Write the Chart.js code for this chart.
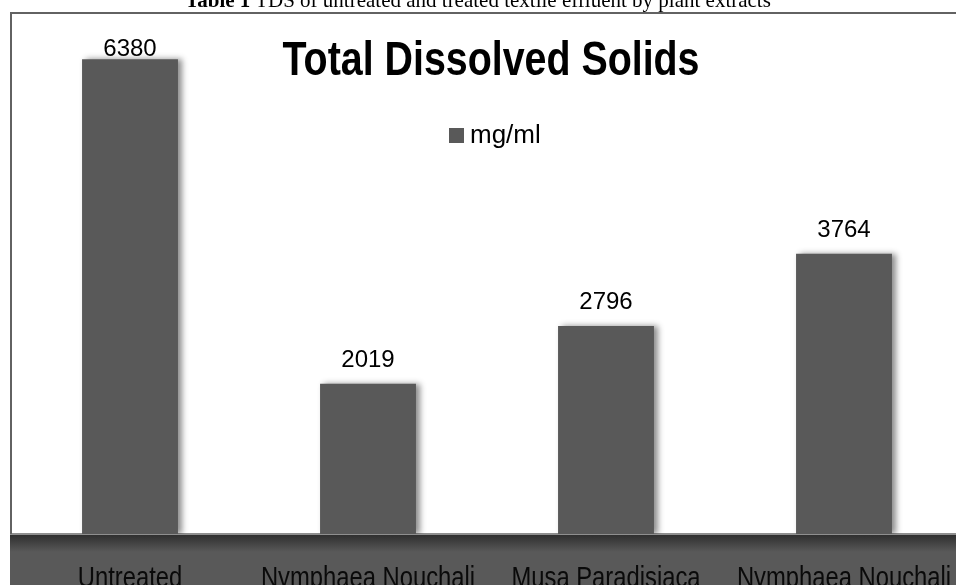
<!DOCTYPE html>
<html>
<head>
<meta charset="utf-8">
<script src="https://cdn.jsdelivr.net/npm/chart.js@4.4.1/dist/chart.umd.min.js"></script>
<style>
html,body{margin:0;padding:0;background:#fff;overflow:hidden;width:956px;height:585px;}
#caption{position:absolute;left:0;top:-12px;width:956px;text-align:center;font-family:"Liberation Serif","Times New Roman",serif;font-size:21px;color:#000;white-space:nowrap;z-index:2;}
#wrap{position:absolute;left:0;top:0;width:975px;height:585px;}
</style>
</head>
<body>
<div id="caption"><b>Table 1</b> TDS of untreated and treated textile effluent by plant extracts</div>
<div id="wrap"><canvas id="c" width="975" height="585"></canvas></div>
<script>
const categories = ['Untreated', 'Nymphaea Nouchali', 'Musa Paradisiaca', 'Nymphaea Nouchali'];
const tdsValues = [6380, 2019, 2796, 3764];
const seriesLabel = 'mg/ml';
const chartTitle = 'Total Dissolved Solids';
const yTicks = [0, 7000];

const SANS = '"Liberation Sans",Arial,sans-serif';
const BAR = '#595959';
const NARROW_SCALE = 0.82;

function narrowText(ctx, text, x, y, sx) {
  ctx.save();
  ctx.translate(x, y);
  ctx.scale(sx, 1);
  ctx.fillText(text, 0, 0);
  ctx.restore();
}

const decor = {
  id: 'decor',
  beforeDraw(chart) {
    const {ctx, chartArea: a, width, height} = chart;
    ctx.save();
    ctx.fillStyle = BAR;
    ctx.fillRect(10, a.bottom, width - 10, height - a.bottom);
    const g = ctx.createLinearGradient(0, a.bottom, 0, a.bottom + 18);
    g.addColorStop(0, 'rgba(30,30,30,0.75)');
    g.addColorStop(1, 'rgba(30,30,30,0)');
    ctx.fillStyle = g;
    ctx.fillRect(10, a.bottom, width - 10, 18);
    ctx.fillStyle = '#8f8f8f';
    ctx.fillRect(10, a.bottom - 1, width - 10, 2);
    ctx.strokeStyle = '#626262';
    ctx.lineWidth = 2;
    ctx.beginPath();
    ctx.moveTo(11, a.bottom);
    ctx.lineTo(11, 13);
    ctx.lineTo(width, 13);
    ctx.stroke();
    ctx.restore();
  },
  beforeDatasetsDraw(chart) {
    const ctx = chart.ctx;
    ctx.save();
    ctx.shadowColor = 'rgba(0,0,0,0.45)';
    ctx.shadowBlur = 6;
    ctx.shadowOffsetX = 4;
    ctx.shadowOffsetY = 0;
  },
  afterDatasetsDraw(chart) {
    const ctx = chart.ctx;
    ctx.restore();
    ctx.save();
    const meta = chart.getDatasetMeta(0);
    const a = chart.chartArea;
    ctx.fillStyle = '#000';
    ctx.textAlign = 'center';
    ctx.textBaseline = 'alphabetic';
    ctx.font = '24px ' + SANS;
    meta.data.forEach((bar, i) => {
      const yb = Math.max(bar.y - 17, a.top + 43);
      ctx.fillText(String(chart.data.datasets[0].data[i]), bar.x, yb);
    });
    const xs = chart.scales.x;
    ctx.font = '29px ' + SANS;
    ctx.fillStyle = '#0a0a0a';
    chart.data.labels.forEach((lab, i) => {
      narrowText(ctx, lab, xs.getPixelForValue(i), 587, NARROW_SCALE);
    });
    ctx.fillStyle = '#000';
    ctx.font = 'bold 48px ' + SANS;
    narrowText(ctx, chartTitle, 491, 75, NARROW_SCALE);
    ctx.fillStyle = BAR;
    ctx.fillRect(449, 128, 15, 15);
    ctx.fillStyle = '#000';
    ctx.textAlign = 'left';
    ctx.font = '26px ' + SANS;
    ctx.fillText(chart.data.datasets[0].label, 470, 143);
    ctx.restore();
  }
};

new Chart(document.getElementById('c'), {
  type: 'bar',
  data: {
    labels: categories,
    datasets: [{
      label: seriesLabel,
      data: tdsValues,
      backgroundColor: BAR,
      borderWidth: 0,
      barPercentage: 1,
      categoryPercentage: 0.403
    }]
  },
  options: {
    responsive: false,
    animation: false,
    devicePixelRatio: 1,
    layout: {padding: {left: 11, right: 12, top: 13, bottom: 51}},
    plugins: {legend: {display: false}, title: {display: false}, tooltip: {enabled: false}},
    scales: {
      x: {display: false},
      y: {display: false, min: yTicks[0], max: yTicks[1]}
    }
  },
  plugins: [decor]
});
</script>
</body>
</html>
